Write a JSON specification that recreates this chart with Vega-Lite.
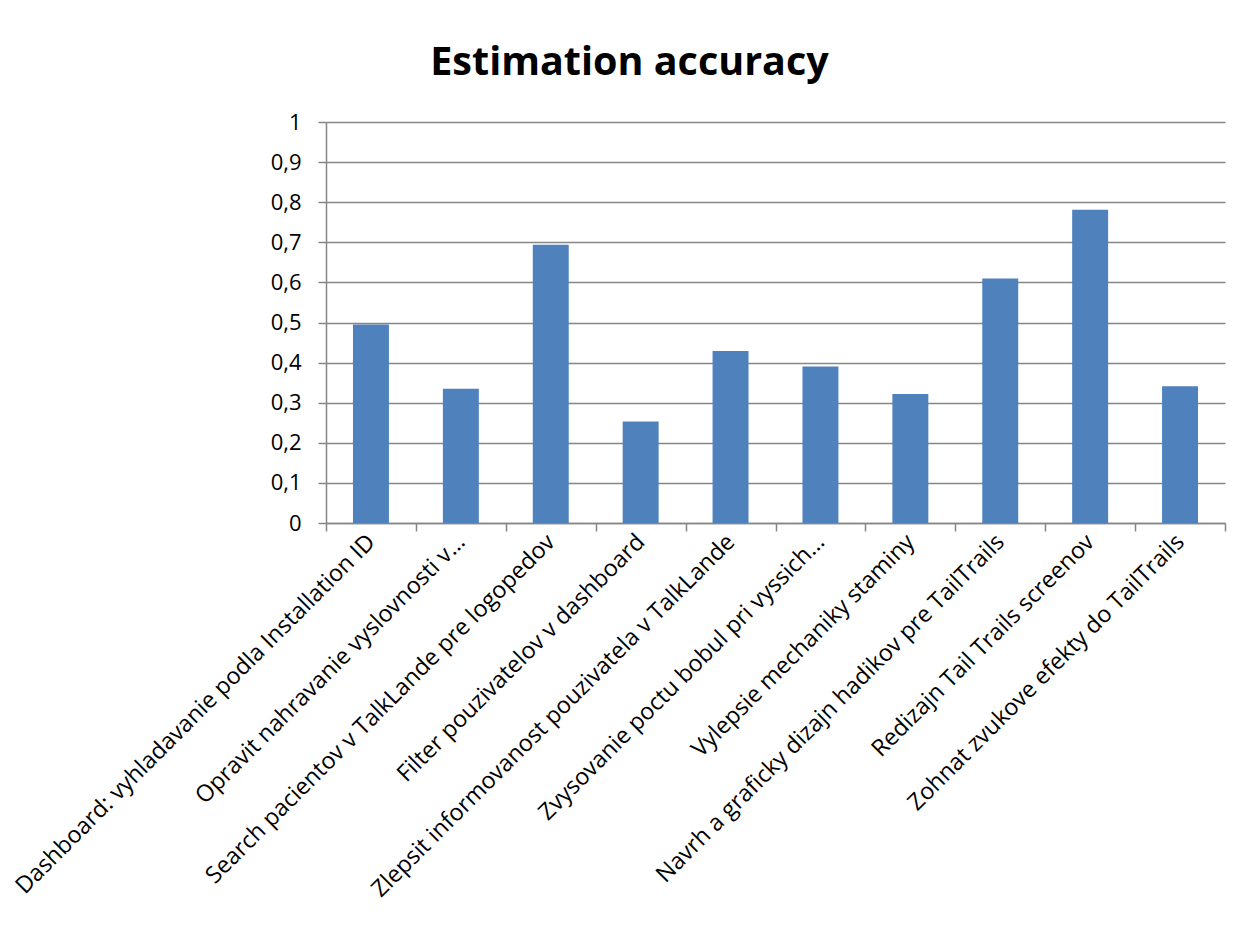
{
  "$schema": "https://vega.github.io/schema/vega-lite/v6.json",
  "autosize": {"type": "none"},
  "width": 899,
  "height": 401,
  "padding": {"left": 326, "top": 122, "right": 28, "bottom": 405},
  "background": "white",
  "title": {
    "text": "Estimation accuracy",
    "font": "Open Sans",
    "fontSize": 39.5,
    "fontWeight": "bold",
    "color": "#000000",
    "anchor": "middle",
    "frame": "group",
    "dx": -146,
    "offset": 28
  },
  "data": {
    "values": [
      {"task": "Dashboard: vyhladavanie podla Installation ID", "accuracy": 0.495},
      {"task": "Opravit nahravanie vyslovnosti v…", "accuracy": 0.335},
      {"task": "Search pacientov v TalkLande pre logopedov", "accuracy": 0.694},
      {"task": "Filter pouzivatelov v dashboard", "accuracy": 0.253},
      {"task": "Zlepsit informovanost pouzivatela v TalkLande", "accuracy": 0.429},
      {"task": "Zvysovanie poctu bobul pri vyssich…", "accuracy": 0.39},
      {"task": "Vylepsie mechaniky staminy", "accuracy": 0.322},
      {"task": "Navrh a graficky dizajn hadikov pre TailTrails", "accuracy": 0.61},
      {"task": "Redizajn Tail Trails screenov", "accuracy": 0.781},
      {"task": "Zohnat zvukove efekty do TailTrails", "accuracy": 0.341}
    ]
  },
  "mark": {"type": "bar", "color": "#4F81BD", "width": {"band": 0.4}},
  "encoding": {
    "x": {
      "field": "task",
      "type": "nominal",
      "sort": null,
      "scale": {"paddingInner": 0, "paddingOuter": 0},
      "axis": {
        "title": null,
        "tickBand": "extent",
        "labelAngle": -45,
        "labelAlign": "right",
        "labelBaseline": "middle",
        "labelFont": "Open Sans",
        "labelFontSize": 23.3,
        "labelColor": "#000000",
        "labelPadding": 7,
        "labelLimit": 0,
        "tickSize": 8,
        "tickColor": "#868686",
        "tickWidth": 1.5,
        "domainColor": "#868686",
        "domainWidth": 1.5,
        "grid": false
      }
    },
    "y": {
      "field": "accuracy",
      "type": "quantitative",
      "scale": {"domain": [0, 1], "nice": false},
      "axis": {
        "title": null,
        "values": [0, 0.1, 0.2, 0.3, 0.4, 0.5, 0.6, 0.7, 0.8, 0.9, 1],
        "labelExpr": "replace(format(datum.value, '~g'), '.', ',')",
        "labelFont": "Open Sans",
        "labelFontSize": 22,
        "labelColor": "#000000",
        "labelPadding": 17,
        "tickSize": 8,
        "tickColor": "#868686",
        "tickWidth": 1.5,
        "domainColor": "#868686",
        "domainWidth": 1.5,
        "grid": true,
        "gridColor": "#868686",
        "gridWidth": 1.5
      }
    }
  },
  "config": {"view": {"stroke": null}}
}
